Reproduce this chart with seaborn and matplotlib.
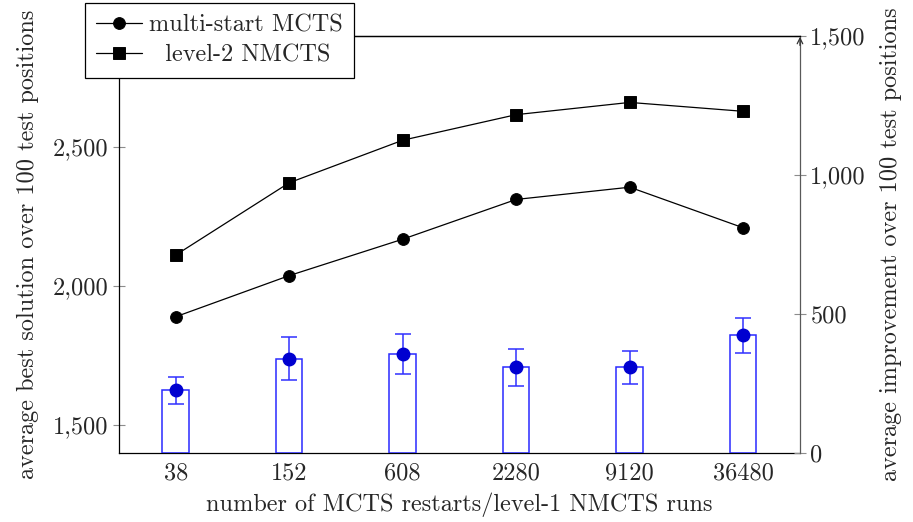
import numpy as np
import pandas as pd
import seaborn as sns
import matplotlib
matplotlib.use("Agg")
import matplotlib.pyplot as plt
from matplotlib.ticker import FuncFormatter

# data
runs = ["38", "152", "608", "2280", "9120", "36480"]
multi_start = [1889, 2037, 2168, 2311, 2355, 2209]
nmcts = [2111, 2371, 2524, 2616, 2660, 2628]
improvement = [224, 338, 356, 307, 307, 422]
improvement_err = [49, 77, 72, 66, 60, 63]

FS = 17.5

sns.set_style("white")
plt.rcParams["font.family"] = ["cmr10", "DejaVu Serif"]
plt.rcParams["axes.formatter.use_mathtext"] = True
plt.rcParams["font.size"] = FS

lines = pd.DataFrame({
    "runs": runs * 2,
    "value": multi_start + nmcts,
    "method": ["multi-start MCTS"] * len(runs) + ["level-2 NMCTS"] * len(runs),
})

fig = plt.figure(figsize=(9.13, 5.22), dpi=100)
ax = fig.add_axes([0.1303, 0.1328, 0.8762 - 0.1303, 0.9316 - 0.1328])
ax2 = ax.twinx()

sns.pointplot(data=lines, x="runs", y="value", hue="method", order=runs,
              palette=["black", "black"], markers=["o", "s"], linestyles=["-", "-"],
              markersize=8.5, linewidth=0.9, errorbar=None, legend=False, ax=ax)

sns.barplot(x=runs, y=improvement, order=runs, fill=False, color="blue",
            edgecolor="#2a2aff", width=0.234, linewidth=1.1, errorbar=None, ax=ax2)
ax2.errorbar(np.arange(len(runs)), improvement, yerr=improvement_err, fmt="o",
             color="#0000d0", ecolor="#3030ff", elinewidth=1.1, capsize=5.5,
             capthick=1.1, markersize=9, zorder=5)

ax.set_ylim(1400, 2900)
ax2.set_ylim(0, 1500)
ax.set_xlim(-0.5, len(runs) - 0.5)
ax.set_yticks([1500, 2000, 2500])
ax2.set_yticks([0, 500, 1000, 1500])
fmt = FuncFormatter(lambda v, p: f"{int(v):,}")
ax.yaxis.set_major_formatter(fmt)
ax2.yaxis.set_major_formatter(fmt)

ax.tick_params(axis="x", length=0, pad=7, labelsize=FS)
ax.tick_params(axis="y", direction="inout", length=8, width=0.8, color="0.55", labelsize=FS)
ax2.tick_params(axis="y", direction="inout", length=8, width=0.8, color="0.55", labelsize=FS)

ax.set_xlabel("number of MCTS restarts/level-1 NMCTS runs", fontsize=FS, labelpad=6)
ax.set_ylabel("average best solution over 100 test positions", fontsize=FS, labelpad=10)
ax2.set_ylabel("average improvement over 100 test positions", fontsize=FS, labelpad=10)

for s in ["left", "bottom", "top"]:
    ax.spines[s].set_color("black")
    ax.spines[s].set_linewidth(0.9)
ax.spines["right"].set_visible(False)
ax2.spines["left"].set_visible(False)
ax2.spines["bottom"].set_visible(False)
ax2.spines["top"].set_color("black")
ax2.spines["top"].set_linewidth(0.9)
ax2.spines["right"].set_color("0.35")
ax2.spines["right"].set_linewidth(0.9)
ax2.annotate("", xy=(1, 1.004), xytext=(1, 0.97), xycoords="axes fraction",
             arrowprops=dict(arrowstyle="->", color="0.2", lw=0.9, mutation_scale=10))

handles = ax.lines[:2]
leg = fig.legend(handles, ["multi-start MCTS", "  level-2 NMCTS"],
                 loc="upper left", bbox_to_anchor=(0.093, 0.994),
                 frameon=True, fancybox=False, edgecolor="black", framealpha=1,
                 fontsize=FS, handlelength=1.9, handletextpad=0.3,
                 borderpad=0.45, labelspacing=0.35, borderaxespad=0)
leg.get_frame().set_linewidth(0.9)

fig.savefig("out.png", dpi=100)
